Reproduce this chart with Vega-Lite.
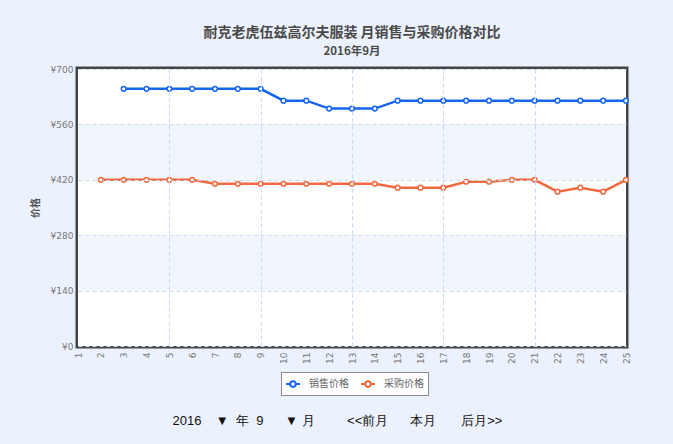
{
  "$schema": "https://vega.github.io/schema/vega-lite/v6.json",
  "autosize": "none",
  "width": 548,
  "height": 277,
  "padding": {"left": 78, "top": 69, "right": 47, "bottom": 98},
  "background": "#ebf2fd",
  "title": {
    "text": "耐克老虎伍兹高尔夫服装 月销售与采购价格对比",
    "subtitle": "2016年9月",
    "anchor": "middle",
    "font": "Noto Sans CJK SC",
    "fontSize": 14,
    "fontWeight": "bold",
    "color": "#4a4a4a",
    "subtitleFont": "Noto Sans CJK SC",
    "subtitleFontSize": 11.5,
    "subtitleFontWeight": "bold",
    "subtitleColor": "#4a4a4a",
    "subtitlePadding": 6,
    "offset": 8
  },
  "config": {
    "view": {"stroke": "#444444", "strokeWidth": 5, "fill": "white"}
  },
  "encoding": {
    "y": {
      "field": "price",
      "type": "quantitative",
      "scale": {"domain": [0, 700], "nice": false, "zero": true},
      "axis": {
        "title": "价格",
        "titleFont": "Noto Sans CJK SC",
        "titleFontSize": 10,
        "titleFontWeight": "bold",
        "titleColor": "#555555",
        "titlePadding": 10,
        "values": [0, 140, 280, 420, 560, 700],
        "labelExpr": "'¥' + datum.value",
        "labelFont": "DejaVu Sans",
        "labelFontSize": 9,
        "labelColor": "#777777",
        "labelPadding": 5,
        "ticks": false,
        "domain": false,
        "grid": true,
        "gridDash": [4, 3],
        "gridColor": "#c6dbf1",
        "gridWidth": 1,
        "zindex": 1
      }
    }
  },
  "layer": [
    {
      "data": {"values": [{"price": 0, "price2": 700}]},
      "mark": {"type": "rect", "fill": "white"},
      "encoding": {"y2": {"field": "price2"}}
    },
    {
      "data": {"values": [{"price": 140, "price2": 280}, {"price": 420, "price2": 560}]},
      "mark": {"type": "rect", "fill": "#f1f6fd"},
      "encoding": {"y2": {"field": "price2"}}
    },
    {
      "data": {
        "values": [
          {"day": 3, "series": "销售价格", "price": 650},
          {"day": 4, "series": "销售价格", "price": 650},
          {"day": 5, "series": "销售价格", "price": 650},
          {"day": 6, "series": "销售价格", "price": 650},
          {"day": 7, "series": "销售价格", "price": 650},
          {"day": 8, "series": "销售价格", "price": 650},
          {"day": 9, "series": "销售价格", "price": 650},
          {"day": 10, "series": "销售价格", "price": 620},
          {"day": 11, "series": "销售价格", "price": 620},
          {"day": 12, "series": "销售价格", "price": 600},
          {"day": 13, "series": "销售价格", "price": 600},
          {"day": 14, "series": "销售价格", "price": 600},
          {"day": 15, "series": "销售价格", "price": 620},
          {"day": 16, "series": "销售价格", "price": 620},
          {"day": 17, "series": "销售价格", "price": 620},
          {"day": 18, "series": "销售价格", "price": 620},
          {"day": 19, "series": "销售价格", "price": 620},
          {"day": 20, "series": "销售价格", "price": 620},
          {"day": 21, "series": "销售价格", "price": 620},
          {"day": 22, "series": "销售价格", "price": 620},
          {"day": 23, "series": "销售价格", "price": 620},
          {"day": 24, "series": "销售价格", "price": 620},
          {"day": 25, "series": "销售价格", "price": 620},
          {"day": 2, "series": "采购价格", "price": 420},
          {"day": 3, "series": "采购价格", "price": 420},
          {"day": 4, "series": "采购价格", "price": 420},
          {"day": 5, "series": "采购价格", "price": 420},
          {"day": 6, "series": "采购价格", "price": 420},
          {"day": 7, "series": "采购价格", "price": 410},
          {"day": 8, "series": "采购价格", "price": 410},
          {"day": 9, "series": "采购价格", "price": 410},
          {"day": 10, "series": "采购价格", "price": 410},
          {"day": 11, "series": "采购价格", "price": 410},
          {"day": 12, "series": "采购价格", "price": 410},
          {"day": 13, "series": "采购价格", "price": 410},
          {"day": 14, "series": "采购价格", "price": 410},
          {"day": 15, "series": "采购价格", "price": 400},
          {"day": 16, "series": "采购价格", "price": 400},
          {"day": 17, "series": "采购价格", "price": 400},
          {"day": 18, "series": "采购价格", "price": 415},
          {"day": 19, "series": "采购价格", "price": 415},
          {"day": 20, "series": "采购价格", "price": 420},
          {"day": 21, "series": "采购价格", "price": 420},
          {"day": 22, "series": "采购价格", "price": 390},
          {"day": 23, "series": "采购价格", "price": 400},
          {"day": 24, "series": "采购价格", "price": 390},
          {"day": 25, "series": "采购价格", "price": 420}
        ]
      },
      "mark": {
        "type": "line",
        "strokeWidth": 2.5,
        "point": {"filled": false, "fill": "white", "size": 22, "strokeWidth": 1.5}
      },
      "encoding": {
        "x": {
          "field": "day",
          "type": "quantitative",
          "scale": {"domain": [1, 25], "nice": false, "zero": false},
          "axis": {
            "values": [1, 2, 3, 4, 5, 6, 7, 8, 9, 10, 11, 12, 13, 14, 15, 16, 17, 18, 19, 20, 21, 22, 23, 24, 25],
            "labelAngle": 270,
            "labelFont": "DejaVu Sans",
            "labelFontSize": 9,
            "labelColor": "#777777",
            "labelPadding": 6,
            "labelOverlap": false,
            "ticks": false,
            "domain": false,
            "grid": true,
            "gridDash": [4, 3],
            "gridColor": "#c6dbf1",
            "gridOpacity": {"condition": {"test": "datum.value % 4 === 1 && datum.value > 1 && datum.value < 25", "value": 1}, "value": 0},
            "zindex": 1,
            "title": "2016\u00a0\u00a0\u00a0\u00a0▼\u00a0\u00a0年\u00a0\u00a09\u00a0\u00a0\u00a0\u00a0\u00a0\u00a0▼\u00a0月\u00a0\u00a0\u00a0\u00a0\u00a0\u00a0\u00a0\u00a0\u00a0<<前月\u00a0\u00a0\u00a0\u00a0\u00a0\u00a0本月\u00a0\u00a0\u00a0\u00a0\u00a0\u00a0\u00a0后月>>",
            "titleFont": "Liberation Sans",
            "titleFontSize": 13,
            "titleFontWeight": "normal",
            "titleColor": "#111111",
            "titlePadding": 51,
            "titleAnchor": "start",
            "titleAlign": "left",
            "titleX": 94
          }
        },
        "color": {
          "field": "series",
          "type": "nominal",
          "scale": {"domain": ["销售价格", "采购价格"], "range": ["#1565f0", "#ef6a3e"]},
          "legend": {
            "title": null,
            "orient": "none",
            "direction": "horizontal",
            "legendX": 203,
            "legendY": 303,
            "symbolType": "M -1 0 L -0.4 0 M 0.4 0 L 1 0 M -0.4 0 A 0.4 0.4 0 1 1 0.4 0 A 0.4 0.4 0 1 1 -0.4 0 Z",
            "symbolSize": 196,
            "symbolStrokeWidth": 2,
            "symbolFillColor": "white",
            "labelFont": "Noto Sans CJK SC",
            "labelFontSize": 10,
            "labelColor": "#666666",
            "labelOffset": 8,
            "columnPadding": 8,
            "fillColor": "white",
            "strokeColor": "#888888",
            "padding": 4
          }
        }
      }
    }
  ]
}
